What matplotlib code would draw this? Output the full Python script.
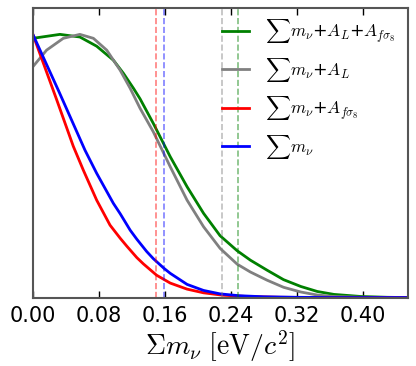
# -*- coding: utf-8 -*-

"""Posterior of the summed neutrino mass for four parameter sets."""

import matplotlib
matplotlib.use('Agg')
import matplotlib.pyplot as plt

plt.rcParams['mathtext.fontset'] = 'cm'

# curve points: (sum m_nu [eV], normalised posterior)
mnu_x = [0.0, 0.0317, 0.0632, 0.0774, 0.0976, 0.106, 0.118, 0.126, 0.138, 0.146,
         0.159, 0.1666, 0.187, 0.207, 0.227, 0.25, 0.28, 0.32, 0.36, 0.40, 0.455]
mnu_y = [1.0, 0.782, 0.56, 0.472, 0.358, 0.318, 0.256, 0.222, 0.175, 0.148,
         0.111, 0.092, 0.05, 0.027, 0.014, 0.007, 0.003, 0.001, 0.0, 0.0, 0.0]

mnu_af_x = [0.0, 0.0285, 0.049, 0.0612, 0.0774, 0.0936, 0.106, 0.114, 0.126, 0.134,
            0.150, 0.1666, 0.187, 0.207, 0.23, 0.26, 0.30, 0.35, 0.40, 0.455]
mnu_af_y = [1.0, 0.755, 0.575, 0.484, 0.370, 0.275, 0.225, 0.195, 0.152, 0.128,
            0.085, 0.055, 0.032, 0.018, 0.009, 0.004, 0.001, 0.0, 0.0, 0.0]

mnu_al_x = [0.0, 0.0166, 0.0369, 0.057, 0.0734, 0.0896, 0.1058, 0.118, 0.130, 0.146,
            0.1666, 0.187, 0.207, 0.227, 0.2477, 0.2638, 0.284, 0.304, 0.325, 0.345,
            0.365, 0.40, 0.455]
mnu_al_y = [0.877, 0.94, 0.985, 1.0, 0.985, 0.94, 0.864, 0.795, 0.719, 0.63,
            0.497, 0.370, 0.269, 0.187, 0.127, 0.097, 0.066, 0.039, 0.021, 0.0095,
            0.004, 0.001, 0.0]

mnu_al_af_x = [0.0, 0.0328, 0.057, 0.0774, 0.0976, 0.1098, 0.122, 0.130, 0.146, 0.1666,
               0.187, 0.207, 0.227, 0.2477, 0.2638, 0.284, 0.304, 0.325, 0.345, 0.365,
               0.398, 0.43, 0.455]
mnu_al_af_y = [0.985, 1.0, 0.99, 0.955, 0.902, 0.852, 0.795, 0.755, 0.662, 0.535,
               0.421, 0.320, 0.235, 0.178, 0.142, 0.104, 0.068, 0.042, 0.023, 0.012,
               0.004, 0.001, 0.0]

# 95% upper limits (dashed lines)
limits = {'r': 0.1495, 'b': 0.159, 'gray': 0.229, 'g': 0.249}

curves = [
    (mnu_al_af_x, mnu_al_af_y, 'g', r'$\sum m_{\nu}$+$A_L$+$A_{f\sigma_8}$'),
    (mnu_al_x, mnu_al_y, 'gray', r'$\sum m_{\nu}$+$A_L$'),
    (mnu_af_x, mnu_af_y, 'r', r'$\sum m_{\nu}$+$A_{f\sigma_8}$'),
    (mnu_x, mnu_y, 'b', r'$\sum m_{\nu}$'),
]
x_ticks = [0.0, 0.08, 0.16, 0.24, 0.32, 0.40]

fig = plt.figure(figsize=(4.16, 3.66), dpi=100)
ax = fig.add_axes([0.079, 0.187, 0.902, 0.791])

for x, y, color, label in curves:
    ax.plot(x, y, color=color, lw=2, label=label)
for color, value in limits.items():
    ax.axvline(value, color=color, ls='--', lw=1.2, alpha=0.5)

ax.set_xlim(0, 0.455)
ax.set_ylim(0, 1.1)
ax.set_xticks(x_ticks)
ax.set_xticklabels(['%.2f' % t for t in x_ticks], fontsize=15)
ax.set_yticks([])
ax.tick_params(axis='x', direction='in', top=True, length=5, width=1, pad=6)
for spine in ax.spines.values():
    spine.set_color('#555555')
    spine.set_linewidth(1.5)
ax.set_xlabel(r'$\Sigma m_{\nu}\ [\mathrm{eV}/c^2]$', fontsize=20, labelpad=2)

ax.legend(loc='upper left', frameon=False, fontsize=12.5, handlelength=1.6,
          handletextpad=0.9, labelspacing=0.6, borderpad=0, borderaxespad=0,
          bbox_to_anchor=(0.503, 0.968))

fig.savefig('out.png', dpi=100)
